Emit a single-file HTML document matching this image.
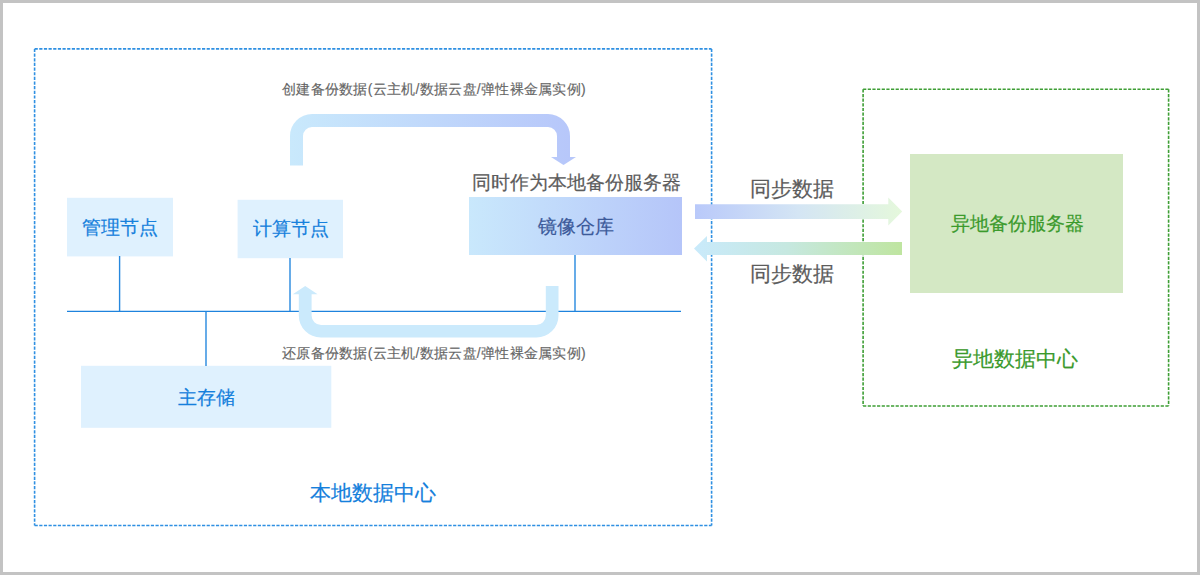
<!DOCTYPE html>
<html>
<head>
<meta charset="utf-8">
<style>
html,body{margin:0;padding:0;}
body{width:1200px;height:575px;position:relative;overflow:hidden;background:#fff;font-family:"Liberation Sans",sans-serif;}
#frame{position:absolute;left:0;top:0;width:1194px;height:569px;border:3px solid #c3c3c3;}
svg{position:absolute;left:0;top:0;}
.t{position:absolute;white-space:nowrap;line-height:1;text-align:center;-webkit-text-stroke:0.2px currentColor;}
.box{position:absolute;}
</style>
</head>
<body>
<div id="frame"></div>
<svg width="1200" height="575" viewBox="0 0 1200 575">
  <defs>
    <linearGradient id="gMirror" x1="0" y1="0" x2="1" y2="0">
      <stop offset="0" stop-color="#c9e8fc"/>
      <stop offset="1" stop-color="#b5c5f9"/>
    </linearGradient>
    <linearGradient id="gTop" gradientUnits="userSpaceOnUse" x1="290" y1="0" x2="570" y2="0">
      <stop offset="0" stop-color="#c9e9fc"/>
      <stop offset="1" stop-color="#b7c7fa"/>
    </linearGradient>
    <linearGradient id="gSync1" gradientUnits="userSpaceOnUse" x1="695" y1="0" x2="902" y2="0">
      <stop offset="0" stop-color="#b9c9fa"/>
      <stop offset="0.5" stop-color="#d4e5f4"/>
      <stop offset="1" stop-color="#e5f8dc"/>
    </linearGradient>
    <linearGradient id="gSync2" gradientUnits="userSpaceOnUse" x1="694" y1="0" x2="902" y2="0">
      <stop offset="0" stop-color="#c9eafb"/>
      <stop offset="0.45" stop-color="#c6e8e0"/>
      <stop offset="1" stop-color="#bfe5a0"/>
    </linearGradient>
  </defs>
  <!-- dashed regions -->
  <g fill="none" stroke="#2f90e2" stroke-width="1.6" stroke-dasharray="3.2 1.45">
    <path d="M34.6,48.9 H711.6"/><path d="M34.6,48.9 V525.5"/><path d="M711.6,48.9 V525.5"/><path d="M34.6,525.5 H711.6"/>
  </g>
  <g fill="none" stroke="#3e9e35" stroke-width="1.6" stroke-dasharray="3.2 1.45">
    <path d="M863.1,89.3 H1168.6"/><path d="M863.1,89.3 V406.0"/><path d="M1168.6,89.3 V406.0"/><path d="M863.1,406.0 H1168.6"/>
  </g>
  <!-- node boxes -->
  <rect x="67" y="197.8" width="106" height="58.6" fill="#dff1fe"/>
  <rect x="237.6" y="199.8" width="105.4" height="58.4" fill="#dff1fe"/>
  <rect x="469" y="197" width="213" height="58" fill="url(#gMirror)"/>
  <rect x="81" y="365.8" width="250.3" height="62" fill="#dff1fe"/>
  <rect x="910" y="154" width="213" height="139" fill="#d4e8c4"/>
  <!-- bus lines -->
  <g stroke="#1e83dd" stroke-width="1.25" fill="none">
    <line x1="67" y1="311.3" x2="681" y2="311.3"/>
  </g>
  <g stroke="#2688de" stroke-width="1.4" fill="none">
    <line x1="119.6" y1="256" x2="119.6" y2="311"/>
    <line x1="290" y1="258" x2="290" y2="311"/>
    <line x1="575" y1="255" x2="575" y2="311"/>
    <line x1="206" y1="311.5" x2="206" y2="366"/>
  </g>
  <!-- top create arrow -->
  <path d="M290,165.5 L290,136 A22,22 0 0 1 312,114 L548,114 A22,22 0 0 1 570,136 L570,157 L576,157 L563.5,165 L551,157 L557,157 L557,136 A9,9 0 0 0 548,127 L312,127 A9,9 0 0 0 303,136 L303,165.5 Z" fill="url(#gTop)"/>
  <!-- bottom restore arrow -->
  <path d="M558.5,286 L558.5,315.5 A22,22 0 0 1 536.5,337.5 L320.8,337.5 A22,22 0 0 1 298.8,315.5 L298.8,294.2 L292.8,294.2 L305.2,286 L317.6,294.2 L311.6,294.2 L311.6,315.5 A9.5,9.5 0 0 0 321.1,325 L536.3,325 A9.5,9.5 0 0 0 545.8,315.5 L545.8,286 Z" fill="#cbeafc"/>
  <!-- sync arrows -->
  <path d="M695,204.3 L888.3,204.3 L888.3,197.4 L902.2,211.5 L888.3,225.6 L888.3,218.9 L695,218.9 Z" fill="url(#gSync1)"/>
  <path d="M902,242 L707,242 L707,236 L694,248.5 L707,261.5 L707,255 L902,255 Z" fill="url(#gSync2)"/>
  </svg>
<div class="t" style="left:67px;top:219px;width:106px;font-size:18.5px;color:#1580dc;">管理节点</div>
<div class="t" style="left:238px;top:220px;width:105px;font-size:18.5px;color:#1580dc;">计算节点</div>
<div class="t" style="left:469px;top:218px;width:213px;font-size:18.5px;color:#3c5a9a;">镜像仓库</div>
<div class="t" style="left:81px;top:389px;width:250px;font-size:18.5px;color:#1580dc;">主存储</div>
<div class="t" style="left:911px;top:215px;width:213px;font-size:18.5px;color:#3b9a2c;">异地备份服务器</div>
<div class="t" style="left:470px;top:174px;width:213px;font-size:18.5px;color:#5c5c5c;">同时作为本地备份服务器</div>
<div class="t" style="left:234px;top:82px;width:400px;font-size:14px;letter-spacing:0.28px;color:#666;-webkit-text-stroke:0.15px #666;">创建备份数据(云主机/数据云盘/弹性裸金属实例)</div>
<div class="t" style="left:234px;top:346px;width:400px;font-size:14px;letter-spacing:0.28px;color:#666;-webkit-text-stroke:0.15px #666;">还原备份数据(云主机/数据云盘/弹性裸金属实例)</div>
<div class="t" style="left:692px;top:179px;width:200px;font-size:20.5px;color:#5c5c5c;">同步数据</div>
<div class="t" style="left:692px;top:264px;width:200px;font-size:20.5px;color:#5c5c5c;">同步数据</div>
<div class="t" style="left:273px;top:482px;width:200px;font-size:21px;color:#1580dc;">本地数据中心</div>
<div class="t" style="left:915px;top:348px;width:200px;font-size:21px;color:#3b9a2c;">异地数据中心</div>
</body>
</html>
